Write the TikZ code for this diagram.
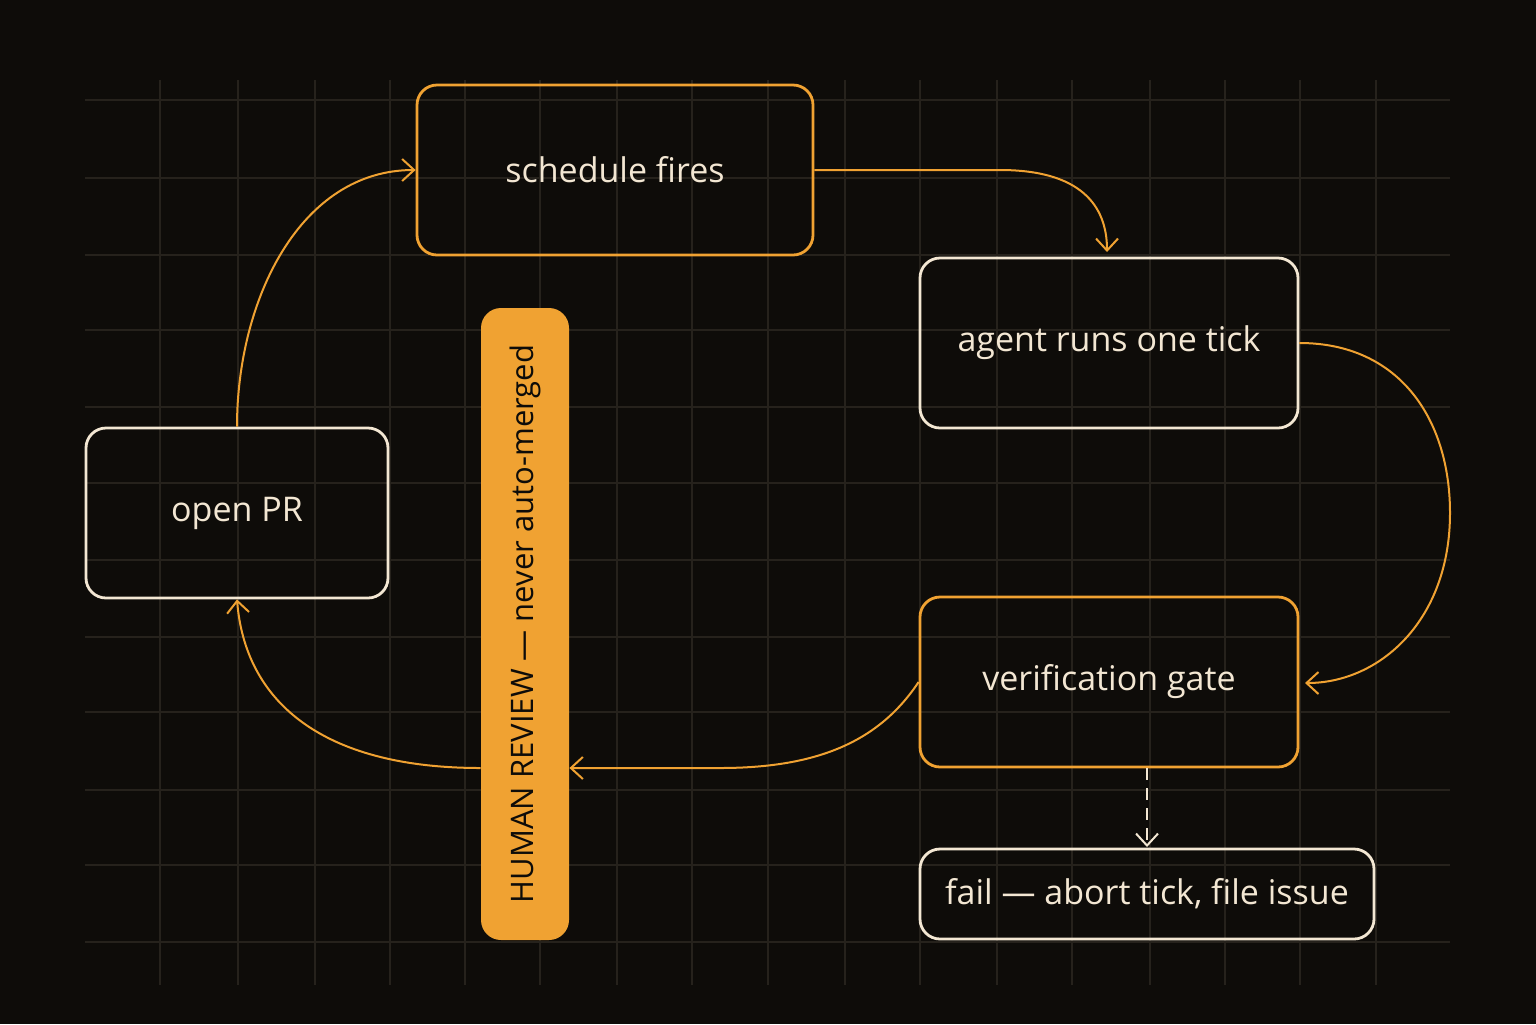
\documentclass[tikz,border=0pt]{standalone}
\usepackage{fontspec}
\setmainfont{Open Sans}
\usetikzlibrary{arrows.meta}
\definecolor{bg}{HTML}{0E0C09}
\definecolor{org}{HTML}{F0A232}
\definecolor{crm}{HTML}{F3E7D3}
\definecolor{grd}{HTML}{26221C}
\tikzset{
  box/.style={draw=#1, line width=1.4pt, rounded corners=10pt, text=crm, font=\fontsize{17}{20}\selectfont, inner sep=0pt},
  arr/.style={draw=org, line width=1pt, -{Straight Barb[length=6pt,width=11pt,line width=1pt]}},
}
\begin{document}
\begin{tikzpicture}[x=0.5pt,y=-0.5pt]
\fill[bg] (0,0) rectangle (1536,1024);
\useasboundingbox (0,0) rectangle (1536,1024);
\foreach \x in {160,238,315,390,465,540,617,692,768,845,920,997,1072,1150,1225,1300,1376}
  \draw[grd, line width=0.6pt] (\x,80) -- (\x,985);
\foreach \y in {100,178,255,330,407,483,560,637,712,790,865,942}
  \draw[grd, line width=0.6pt] (85,\y) -- (1450,\y);
\node[box=org, minimum width=198pt, minimum height=85pt] (sch) at (615,170) {schedule fires};
\node[box=crm, minimum width=189pt, minimum height=85pt] (agt) at (1109,343) {agent runs one tick};
\node[box=crm, minimum width=151pt, minimum height=85pt] (pr) at (237,513) {open PR};
\node[box=org, minimum width=189pt, minimum height=85pt] (ver) at (1109,682) {verification gate};
\node[box=crm, minimum width=227pt, minimum height=45pt] (fail) at (1147,894) {fail — abort tick, file issue};
\node[fill=org, rounded corners=10pt, minimum width=44pt, minimum height=316pt, inner sep=0pt] (hr) at (525,624) {};
\node[rotate=90, text=bg, font=\fontsize{15.5}{18}\selectfont] (hrt) at (hr.center) {HUMAN REVIEW — never auto-merged};
\coordinate (vs) at (1147,768);
\coordinate (ft) at (1147,847);
\draw[arr] (sch.east) -- (1000,170) .. controls (1080,170) and (1107,205) .. (1107,252);
\draw[arr] (agt.east) .. controls (1400,343) and (1450,420) .. (1450,513) .. controls (1450,620) and (1380,683) .. (1305,683);
\draw[arr] (ver.west) .. controls (880,740) and (820,768) .. (720,768) -- (hr.east |- vs);
\draw[arr] (hr.west |- vs) .. controls (320,768) and (245,700) .. (pr.south);
\draw[arr] (pr.north) .. controls (237,300) and (300,170) .. (sch.west);
\draw[draw=crm, line width=1pt, dash pattern=on 6pt off 4pt, -{Straight Barb[length=6pt,width=11pt,line width=1pt]}] (vs) -- (ft);
\end{tikzpicture}
\end{document}
